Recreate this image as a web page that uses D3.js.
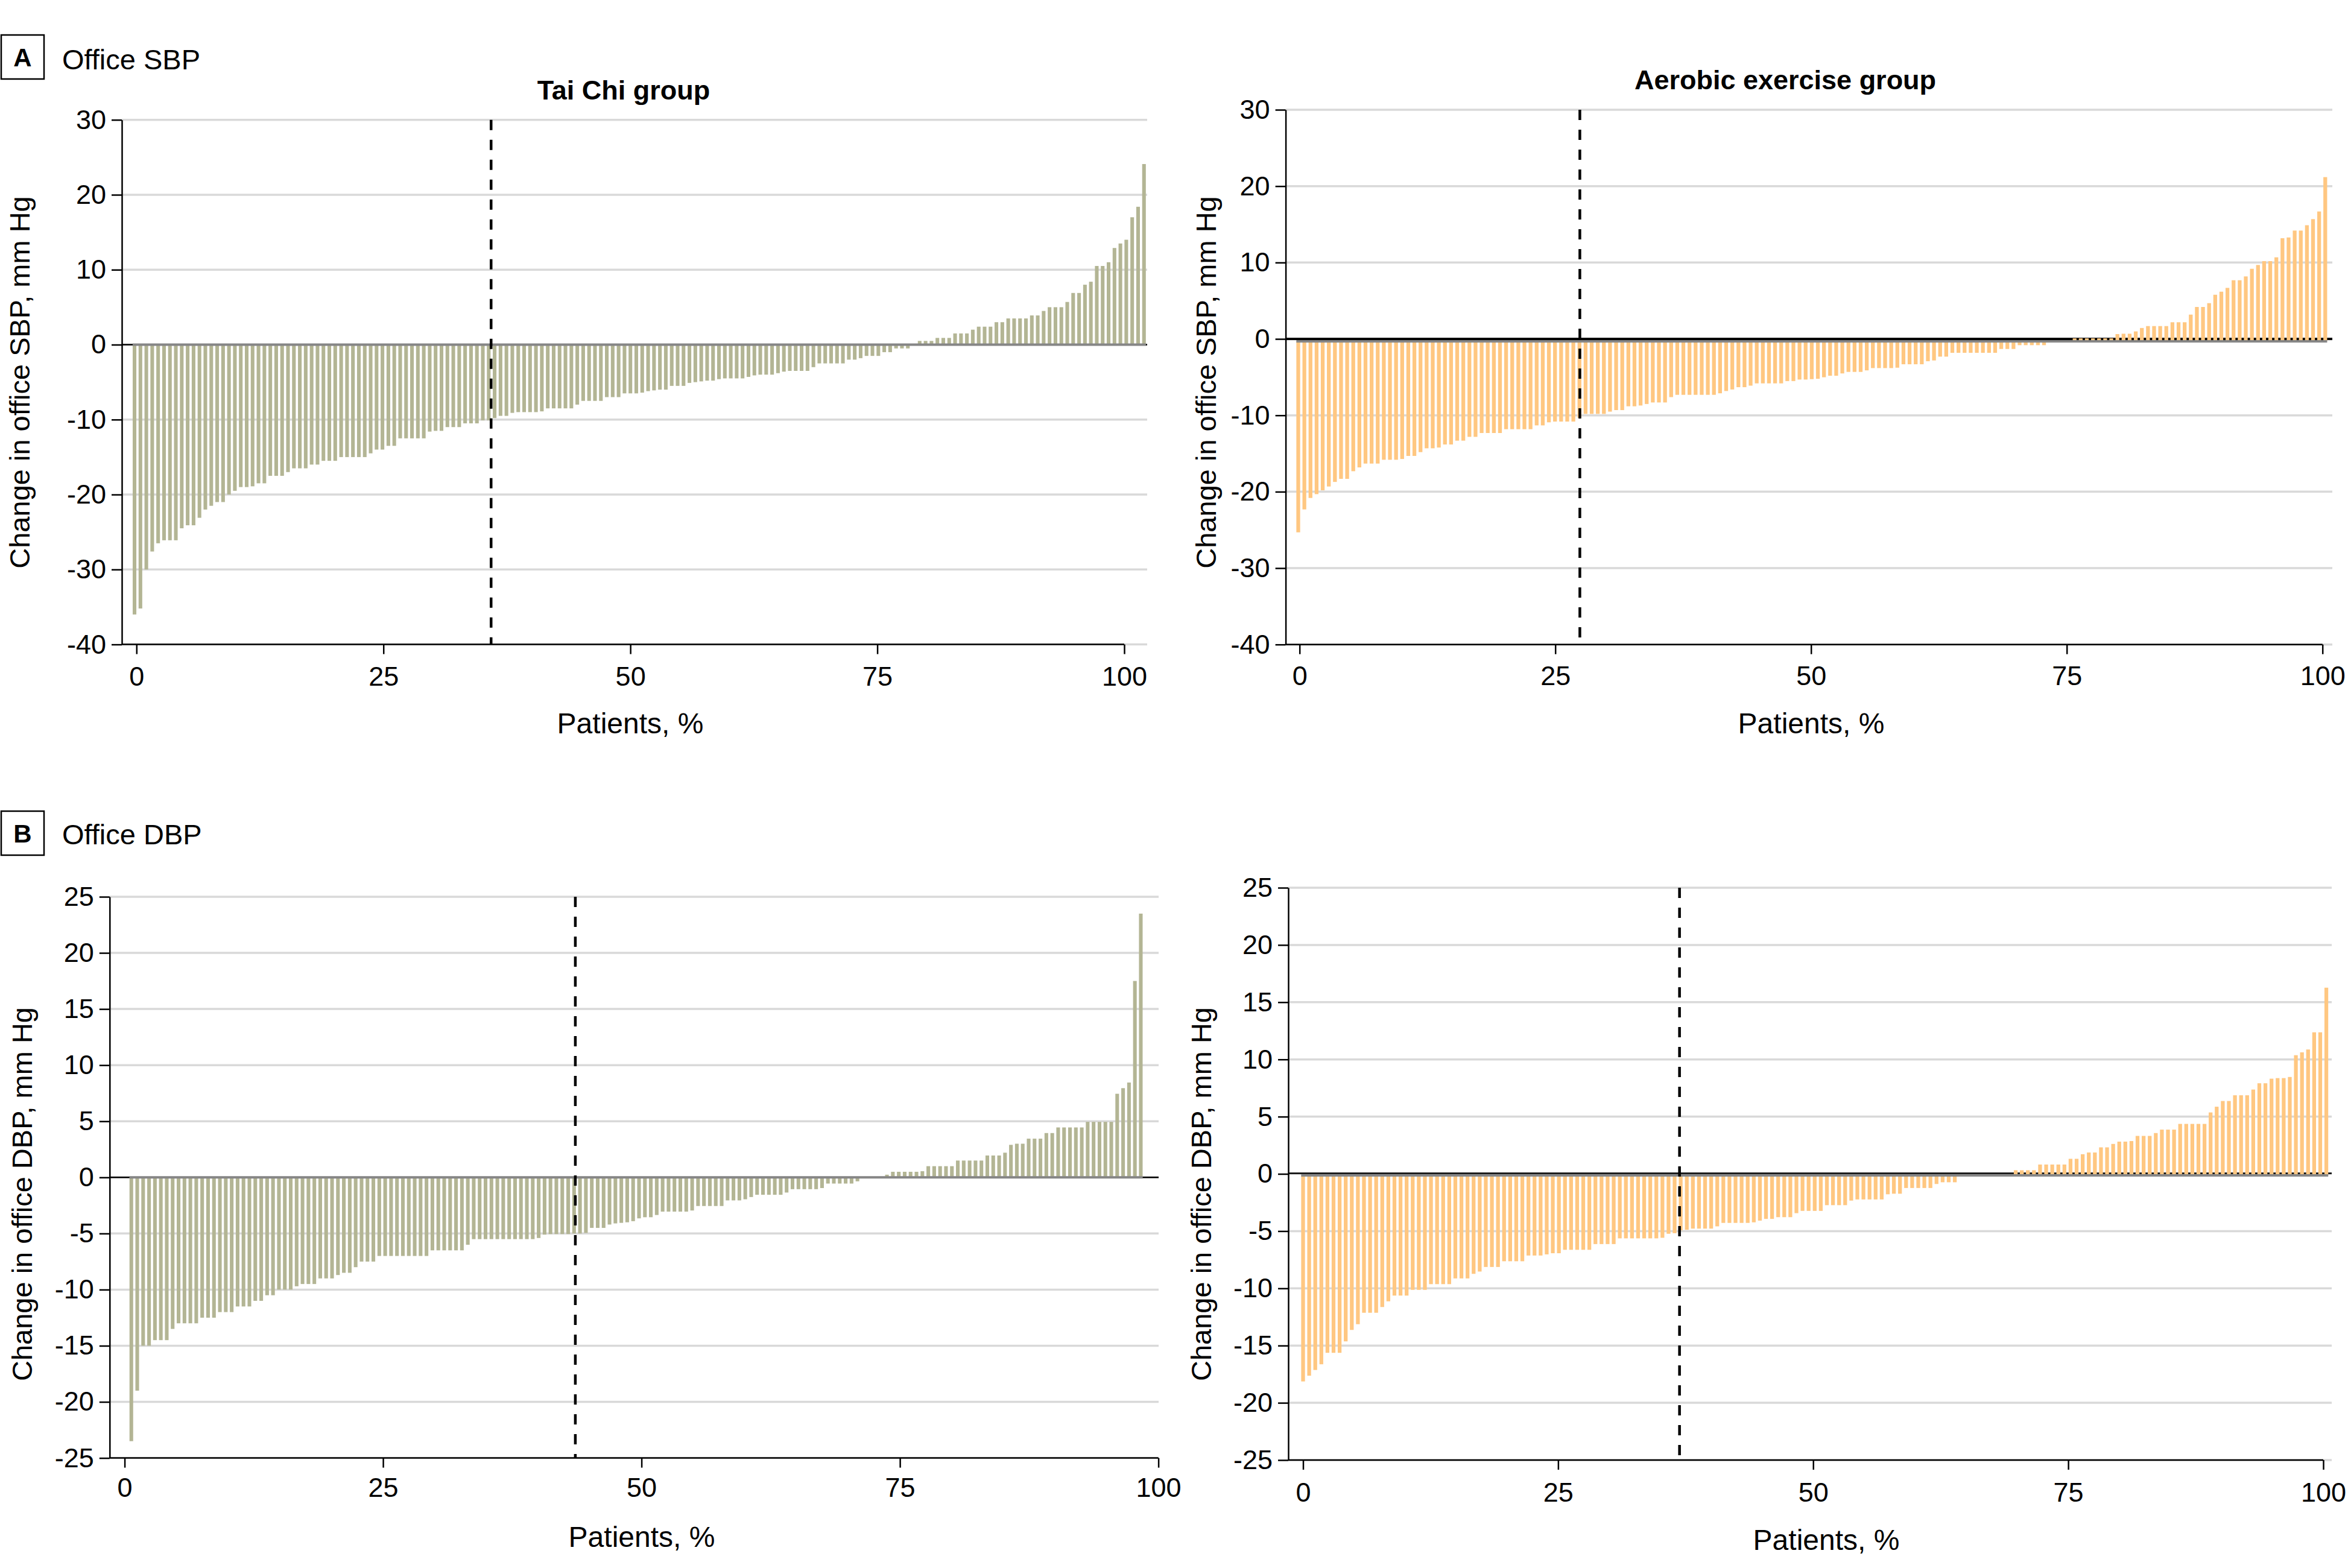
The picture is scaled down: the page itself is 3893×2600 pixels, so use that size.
<!DOCTYPE html>
<html><head><meta charset="utf-8">
<script src="https://cdn.jsdelivr.net/npm/d3@7"></script>
<style>html,body{margin:0;padding:0;background:#fff;} svg{display:block;}</style>
</head><body>
<svg id="chart" width="3893" height="2600"></svg>
<script>
// ---------------- DATA ----------------
const taiChiSBP = [
 -36, -35.2, -30, -27.6, -26.5, -26.1, -26.1, -26.1, -24.5, -24.1,
 -24.1, -23.1, -22, -21.5, -21, -21, -20, -19.5, -19, -19,
 -18.9, -18.5, -18.5, -17.5, -17.5, -17.5, -17, -16.5, -16.5, -16.5,
 -16, -16, -15.5, -15.5, -15.5, -15, -15, -15, -15, -15,
 -14.5, -14, -14, -13.5, -13.5, -12.5, -12.5, -12.5, -12.5, -12.5,
 -11.6, -11.5, -11.5, -11, -11, -11, -10.5, -10.5, -10.5, -10.1,
 -10.1,
 -9.8, -9.5, -9.5, -9.1, -9, -9, -9, -9, -8.9, -8.5,
 -8.5, -8.5, -8.5, -8.5, -8, -7.5, -7.5, -7.5, -7.5, -7,
 -7, -7, -6.5, -6.5,
 -6.5, -6.4, -6.2, -6.1, -6, -6, -5.5, -5.5, -5.5, -5.1,
 -5, -4.9, -4.8, -4.8, -4.6, -4.5, -4.5, -4.5, -4.5, -4.3,
 -4.1, -4, -4, -4, -3.8, -3.6, -3.5, -3.5, -3.5, -3.5,
 -3, -2.5, -2.5, -2.5, -2.5, -2.5, -2, -2, -1.8, -1.5,
 -1.5, -1.5, -1, -1, -0.5, -0.5, -0.5, 0,
 0.5, 0.5, 0.5, 0.9, 0.9, 0.9, 1.5, 1.5, 1.5, 2,
 2.4, 2.4, 2.4, 3, 3, 3.5, 3.5, 3.5, 3.5, 3.9,
 3.9, 4.5, 5, 5, 5, 5.7, 6.9, 6.9, 8, 8.4,
 10.5, 10.5, 11, 12.9, 13.5, 14, 17, 18.4, 24.1
];
const aerobicSBP = [
 -25, -22, -20.5, -20, -19.5, -19, -18.4, -18, -18, -17,
 -16.5, -16, -16, -16, -15.5, -15.5, -15.5, -15.4, -15, -15,
 -14.5, -14, -14, -13.9, -13.5, -13.5, -13, -13, -12.5, -12.5,
 -12, -12, -12, -12, -11.5, -11.5, -11.5, -11.5, -11.5, -11,
 -11, -10.6, -10.5, -10.5, -10.5, -10.5, -10, -9.5, -9.5, -9.5,
 -9.5, -9.2, -9, -9, -8.5, -8.5, -8.4, -8.2, -8, -8,
 -8, -7.3, -7, -7, -7, -7, -7, -7, -7, -6.8,
 -6.5, -6.3, -6, -6, -5.8, -5.5, -5.5, -5.5, -5.5, -5.5,
 -5.2, -5.2, -5, -5, -4.95,
 -4.9, -4.7, -4.5, -4.5, -4.2, -4, -4, -4, -3.8, -3.5,
 -3.5, -3.5, -3.5, -3.45, -3, -3, -3, -3, -2.6, -2.5,
 -2, -2, -1.5, -1.5, -1.5, -1.5, -1.5, -1.5, -1.5, -1.5,
 -1, -1, -1, -0.5, -0.5, -0.5, -0.5, -0.5, 0, 0,
 0, 0, 0.4, 0.4, 0.4, 0.4, 0.4, 0.4, 0.4, 0.95,
 1, 1, 1.3, 1.75, 2, 2, 2, 2, 2.5, 2.5,
 2.5, 3.5, 4.5, 4.5, 5, 6.1, 6.5, 7, 8, 8,
 8.5, 9.5, 10, 10.5, 10.5, 11, 13.5, 13.6, 14.5, 14.5,
 15.2, 16, 17, 21.5
];
const taiChiDBP = [
 -23.5, -19, -15, -15, -14.5, -14.5, -14.5, -13.5, -13, -13,
 -13, -13, -12.5, -12.5, -12.5, -12, -12, -12, -11.5, -11.5,
 -11.5, -11, -11, -10.5, -10.5, -10, -10, -10, -9.7, -9.5,
 -9.5, -9.5, -9, -9, -9, -8.7, -8.5, -8.5, -8, -7.5,
 -7.5, -7.5, -7, -7, -7, -7, -7, -7, -7, -7,
 -7, -6.5, -6.5, -6.5, -6.5, -6.5, -6.5, -6, -5.5, -5.5,
 -5.5, -5.5, -5.5, -5.5, -5.5, -5.5, -5.5, -5.5, -5.5, -5.4,
 -5.1, -5.05, -5.05, -5.05, -5.05, -5, -5, -4.95, -4.5, -4.5,
 -4.5, -4.2, -4.1, -4.05, -4,
 -3.9, -3.65, -3.55, -3.55, -3.35, -3.05, -3.05, -3.05, -3.05, -3.05,
 -2.95, -2.55, -2.55, -2.55, -2.55, -2.55, -2.05, -2.05, -2.05, -1.95,
 -1.75, -1.55, -1.55, -1.55, -1.55, -1.55, -1.35, -1.05, -1.05, -1.05,
 -1.05, -1.05, -0.95, -0.55, -0.55, -0.55, -0.55, -0.55, -0.35, 0,
 0, 0, 0, 0.24, 0.5, 0.5, 0.5, 0.5, 0.5, 0.55,
 1, 1, 1, 1, 1, 1.5, 1.5, 1.5, 1.5, 1.5,
 1.95, 1.95, 1.95, 2.2, 2.9, 3, 3, 3.45, 3.45, 3.45,
 3.95, 3.95, 4.45, 4.45, 4.45, 4.45, 4.45, 4.95, 4.95, 4.95,
 4.95, 4.95, 7.45, 7.95, 8.45, 17.5, 23.5
];
const aerobicDBP = [
 -18, -17.5, -17, -16.5, -15.5, -15.5, -15.5, -14.5, -13.5, -13,
 -12, -12, -12, -11.5, -11, -10.5, -10.5, -10.5, -10, -10,
 -10, -9.5, -9.5, -9.5, -9.5, -9, -9, -9, -8.6, -8.4,
 -8, -8, -8, -7.5, -7.5, -7.5, -7.5, -7, -7, -7,
 -6.9, -6.8, -6.8, -6.5, -6.5, -6.5, -6.5, -6.5, -6, -6,
 -6, -6, -5.5, -5.5, -5.5, -5.5, -5.5, -5.5, -5.5, -5.45,
 -5.1, -5.05, -4.8, -4.75, -4.65, -4.65, -4.65, -4.65, -4.45, -4.15,
 -4.15, -4.15, -4.15, -4.15, -4.1, -3.95, -3.8, -3.8, -3.65, -3.65,
 -3.65, -3.3, -3.1, -3.1,
 -3.1, -3.1, -2.6, -2.6, -2.6, -2.6, -2.2, -2.1, -2.1, -2.1,
 -2.1, -2.1, -1.65, -1.6, -1.6, -1.1, -1.1, -1.1, -1.1, -1.1,
 -0.75, -0.6, -0.6, -0.6, 0, 0, 0, 0, 0, 0,
 0, 0, 0, 0.45, 0.45, 0.45, 0.45, 0.95, 0.95, 0.95,
 0.95, 0.95, 1.45, 1.45, 1.85, 2, 2, 2.45, 2.45, 2.75,
 2.95, 2.95, 3, 3.45, 3.45, 3.45, 3.7, 4, 4, 4,
 4.5, 4.5, 4.5, 4.5, 4.5, 5.5, 6, 6.5, 6.5, 7,
 7, 7, 7.5, 8.05, 8.05, 8.45, 8.5, 8.5, 8.6, 10.5,
 10.75, 11, 12.5, 12.5, 16.4
];
const sbpTicks = [30, 20, 10, 0, -10, -20, -30, -40];
const dbpTicks = [25, 20, 15, 10, 5, 0, -5, -10, -15, -20, -25];
const pctTicks = [0, 25, 50, 75, 100];
const groupTitles = ["Tai Chi group", "Aerobic exercise group"];
const sectionLetters = ["A", "B"];
const sectionTitles = ["Office SBP", "Office DBP"];
const yTitles = ["Change in office SBP, mm Hg", "Change in office DBP, mm Hg"];
const xTitle = "Patients, %";
const cutoffPct = [35.9, 27.4, 43.6, 36.9];

// ---------------- STYLE / LAYOUT ----------------
const FONT = "'Liberation Sans', Arial, Helvetica, sans-serif";
const taiChiColor = "#b3b594";
const aerobicColor = "#ffc781";
const svg = d3.select("#chart");
svg.append("rect").attr("width", 3893).attr("height", 2600).attr("fill", "#fff");

const panels = [
  {data: taiChiSBP, color: taiChiColor, ticks: sbpTicks, cut: cutoffPct[0], yTitle: yTitles[0], title: groupTitles[0],
   axisX: 202, x0: 226.3, x100: 1864, gridRight: 1902, yTop: 198.7, yBottom: 1068.6,
   firstPct: -0.2, lastPct: 102, barDy: 0, blackDy: 0, blackW: 2.5,
   titleX: 1034, titleY: 165, yTitleX: 49, yTitleCY: 634, xTickBase: 1137, xTitleX: 1045, xTitleY: 1216},
  {data: aerobicSBP, color: aerobicColor, ticks: sbpTicks, cut: cutoffPct[1], yTitle: yTitles[0], title: groupTitles[1],
   axisX: 2131.6, x0: 2154.7, x100: 3850.7, gridRight: 3867, yTop: 182, yBottom: 1068.7,
   firstPct: -0.13, lastPct: 100.27, barDy: 4, blackDy: 0, blackW: 4,
   titleX: 2960, titleY: 148, yTitleX: 2016, yTitleCY: 634, xTickBase: 1136, xTitleX: 3003, xTitleY: 1216},
  {data: taiChiDBP, color: taiChiColor, ticks: dbpTicks, cut: cutoffPct[2], yTitle: yTitles[1], title: null,
   axisX: 181.8, x0: 206.6, x100: 1920.6, gridRight: 1921, yTop: 1487, yBottom: 2417.6,
   firstPct: 0.65, lastPct: 98.3, barDy: 0, blackDy: 0, blackW: 2.5,
   yTitleX: 53, yTitleCY: 1980, xTickBase: 2482, xTitleX: 1064, xTitleY: 2565},
  {data: aerobicDBP, color: aerobicColor, ticks: dbpTicks, cut: cutoffPct[3], yTitle: yTitles[1], title: null,
   axisX: 2136, x0: 2160.5, x100: 3852, gridRight: 3866, yTop: 1472, yBottom: 2421,
   firstPct: 0, lastPct: 100.3, barDy: 2.5, blackDy: -1, blackW: 2.5,
   yTitleX: 2008, yTitleCY: 1980, xTickBase: 2490, xTitleX: 3028, xTitleY: 2570}
];

function drawPanel(p) {
  const g = svg.append("g");
  const yMax = d3.max(p.ticks), yMin = d3.min(p.ticks);
  const x = d3.scaleLinear().domain([0, 100]).range([p.x0, p.x100]);
  const y = d3.scaleLinear().domain([yMax, yMin]).range([p.yTop, p.yBottom]);
  const n = p.data.length;
  const pos = d3.scaleLinear().domain([0, n - 1]).range([x(p.firstPct), x(p.lastPct)]);
  const step = (pos(n - 1) - pos(0)) / (n - 1);
  const bw = step * 0.62;

  // grid lines
  g.append("g").selectAll("line").data(p.ticks).join("line")
    .attr("x1", p.axisX).attr("x2", p.gridRight)
    .attr("y1", d => y(d)).attr("y2", d => y(d))
    .attr("stroke", "#d9d9d9").attr("stroke-width", 3.5);

  // black zero line
  g.append("line")
    .attr("x1", p.axisX).attr("x2", p.gridRight)
    .attr("y1", y(0) + p.blackDy).attr("y2", y(0) + p.blackDy)
    .attr("stroke", "#000").attr("stroke-width", p.blackW);

  // bars
  g.append("g").selectAll("rect").data(p.data).join("rect")
    .attr("x", (d, i) => pos(i) - bw / 2)
    .attr("width", bw)
    .attr("y", d => Math.min(y(d), y(0)) + p.barDy)
    .attr("height", d => Math.abs(y(d) - y(0)))
    .attr("fill", p.color);

  // gray baseline
  g.append("line")
    .attr("x1", pos(0) - bw / 2).attr("x2", pos(n - 1) + bw / 2)
    .attr("y1", y(0) + p.barDy).attr("y2", y(0) + p.barDy)
    .attr("stroke", "#868686").attr("stroke-width", 4);

  // dashed cutoff line
  g.append("line")
    .attr("x1", x(p.cut)).attr("x2", x(p.cut))
    .attr("y1", y(yMax)).attr("y2", y(yMin))
    .attr("stroke", "#000").attr("stroke-width", 4.5)
    .attr("stroke-dasharray", "17,16");

  // y axis
  const ya = g.append("g").attr("transform", `translate(${p.axisX},0)`)
    .call(d3.axisLeft(y).tickValues(p.ticks).tickSize(17).tickSizeOuter(0).tickPadding(9).tickFormat(d => String(d)));
  ya.attr("font-size", null).attr("font-family", null);
  ya.select(".domain").attr("stroke", "#000").attr("stroke-width", 2.5);
  ya.selectAll(".tick line").attr("stroke", "#000").attr("stroke-width", 2.5);
  ya.selectAll(".tick text").attr("fill", "#000").style("font-size", "45px").style("font-family", FONT);

  // x axis
  const axY = y(yMin);
  g.append("line").attr("x1", p.axisX).attr("x2", x(100)).attr("y1", axY).attr("y2", axY)
    .attr("stroke", "#000").attr("stroke-width", 2.5);
  const xa = g.append("g").attr("transform", `translate(0,${axY})`)
    .call(d3.axisBottom(x).tickValues(pctTicks).tickSize(16).tickSizeOuter(0).tickFormat(d => String(d)));
  xa.attr("font-size", null).attr("font-family", null);
  xa.select(".domain").remove();
  xa.selectAll(".tick line").attr("stroke", "#000").attr("stroke-width", 2.5);
  xa.selectAll(".tick text").attr("fill", "#000").attr("dy", null).attr("y", p.xTickBase - axY)
    .style("font-size", "45px").style("font-family", FONT);

  // axis titles
  g.append("text").text(xTitle)
    .attr("x", p.xTitleX).attr("y", p.xTitleY).attr("text-anchor", "middle")
    .style("font-size", "48px").style("font-family", FONT).attr("fill", "#000");
  g.append("text").text(p.yTitle)
    .attr("transform", `translate(${p.yTitleX},${p.yTitleCY}) rotate(-90)`)
    .attr("text-anchor", "middle")
    .style("font-size", "47px").style("font-family", FONT).attr("fill", "#000");

  if (p.title) {
    g.append("text").text(p.title)
      .attr("x", p.titleX).attr("y", p.titleY).attr("text-anchor", "middle")
      .style("font-size", "45px").style("font-weight", "bold").style("font-family", FONT).attr("fill", "#000");
  }
}
panels.forEach(drawPanel);

// section headers
const headers = [{box: [2, 58], textY: 114.5}, {box: [2, 1345], textY: 1400}];
headers.forEach((h, i) => {
  svg.append("rect").attr("x", h.box[0]).attr("y", h.box[1]).attr("width", 71).attr("height", 73)
    .attr("fill", "#fff").attr("stroke", "#000").attr("stroke-width", 2.5);
  svg.append("text").text(sectionLetters[i])
    .attr("x", h.box[0] + 35.5).attr("y", h.box[1] + 52).attr("text-anchor", "middle")
    .style("font-size", "42px").style("font-weight", "bold").style("font-family", FONT);
  svg.append("text").text(sectionTitles[i])
    .attr("x", 103).attr("y", h.textY)
    .style("font-size", "47px").style("font-family", FONT);
});
</script>
</body></html>
